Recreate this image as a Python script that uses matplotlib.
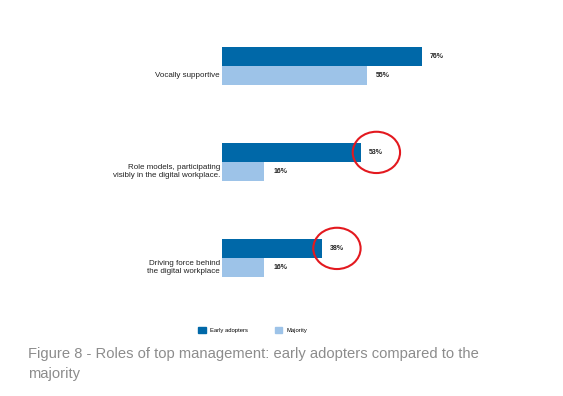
import matplotlib.pyplot as plt
from matplotlib.patches import Ellipse, Patch

# chart data
categories = [
    "Vocally supportive",
    "Role models, participating\nvisibly in the digital workplace.",
    "Driving force behind\nthe digital workplace",
]
early_adopters = [76, 53, 38]
majority = [55, 16, 16]
highlighted = [1, 2]  # categories circled in red

DARK_BLUE = "#0068a8"
LIGHT_BLUE = "#9dc3e8"
CAPTION_GREY = "#8c8c8c"

plt.rcParams["font.family"] = ["Liberation Sans", "DejaVu Sans"]

fig = plt.figure(figsize=(5.63, 3.96), dpi=100)
ax = fig.add_axes([222 / 563, 1 - 306 / 396, 263 / 563, 288 / 396])

positions = list(range(len(categories)))
bar_h = 0.2
dark_y = [p - bar_h / 2 for p in positions]
light_y = [p + bar_h / 2 for p in positions]

ax.barh(dark_y, early_adopters, height=bar_h, color=DARK_BLUE, linewidth=0)
ax.barh(light_y, majority, height=bar_h, color=LIGHT_BLUE, linewidth=0)

for y, v in zip(dark_y, early_adopters):
    ax.text(v + 3, y, f"{v}%", va="center", ha="left", fontsize=5,
            fontweight="bold", color="#222222")
for y, v in zip(light_y, majority):
    ax.text(v + 3.5, y, f"{v}%", va="center", ha="left", fontsize=5,
            fontweight="bold", color="#222222")

# category labels sit next to the majority bar
for y, label in zip(light_y, categories):
    ax.text(-0.8, y, label, va="center", ha="right", fontsize=5.8,
            color="#222222", linespacing=1.3)

# red circles around highlighted values
for i in highlighted:
    ax.add_patch(Ellipse((early_adopters[i] + 5.7, dark_y[i]), 18, 0.43,
                         fill=False, edgecolor="#e3191f", linewidth=1.5,
                         clip_on=False))

ax.set_xlim(0, 100)
ax.set_ylim(2.5, -0.5)
ax.axis("off")

handles = [Patch(color=DARK_BLUE, label="Early adopters"),
           Patch(color=LIGHT_BLUE, label="Majority")]
fig.legend(handles=handles, loc="center", bbox_to_anchor=(253 / 563, 1 - 330 / 396),
           ncol=2, frameon=False, fontsize=4.2, handlelength=1.3,
           handleheight=1.3, columnspacing=4.5, handletextpad=0.8)

fig.text(28 / 563, 1 - 364 / 396,
         "Figure 8 - Roles of top management: early adopters compared to the\nmajority",
         ha="left", va="center", fontsize=10.6, color=CAPTION_GREY,
         linespacing=1.55)

fig.savefig("out.png", dpi=100)
